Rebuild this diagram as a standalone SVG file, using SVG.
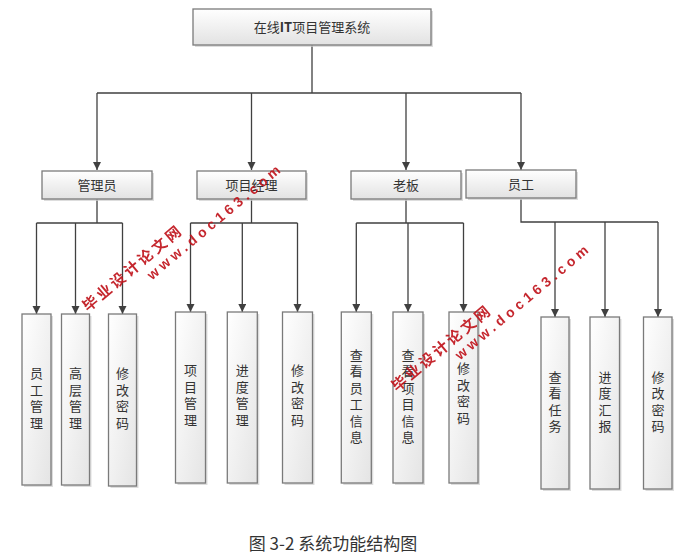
<svg xmlns="http://www.w3.org/2000/svg" width="678" height="558" viewBox="0 0 678 558">
<defs>
<linearGradient id="g" x1="0" y1="0" x2="0" y2="1">
<stop offset="0" stop-color="#ffffff"/>
<stop offset="1" stop-color="#e2e2e2"/>
</linearGradient>
<linearGradient id="gv" x1="0" y1="0" x2="1" y2="1">
<stop offset="0" stop-color="#ffffff"/>
<stop offset="1" stop-color="#e4e4e4"/>
</linearGradient>
<marker id="arr" markerUnits="userSpaceOnUse" markerWidth="9" markerHeight="9" refX="8" refY="4" orient="auto">
<path d="M0,0 L8,4 L0,8 z" fill="#404040"/>
</marker>
</defs>
<style>
.box{fill:url(#g);stroke:#7a7a7a;stroke-width:1.3}
.tall{fill:url(#gv);stroke:#7a7a7a;stroke-width:1.3}
.sh{fill:#cfcfcf;opacity:0.7}
.t{font-family:"Noto Sans CJK SC","Liberation Sans",sans-serif;font-size:13px;fill:#333;text-anchor:middle}
.v{font-family:"Noto Sans CJK SC",sans-serif;font-size:13px;fill:#333;text-anchor:middle;writing-mode:vertical-rl;letter-spacing:3.5px}
.ln{fill:none;stroke:#404040;stroke-width:1.3}
.ar{marker-end:url(#arr)}
.wm{font-family:"Noto Sans CJK SC",sans-serif;font-weight:bold;font-size:15px;fill:#c0141c;text-anchor:middle;letter-spacing:3px}
.ww{font-family:"Liberation Sans",sans-serif;font-weight:bold;font-size:14px;fill:#c0141c;text-anchor:middle;letter-spacing:4px}
.cap{font-family:"Noto Sans CJK SC",sans-serif;font-size:17px;fill:#333;text-anchor:middle}
</style>
<rect width="678" height="558" fill="#ffffff"/>

<g id="connectors">
<path class="ln" d="M312,45 V93 M97,93 H521"/>
<path class="ln ar" d="M97,93 V170"/>
<path class="ln ar" d="M251.5,93 V170"/>
<path class="ln ar" d="M406,93 V170"/>
<path class="ln ar" d="M521,93 V170"/>
<path class="ln" d="M97,199 V223 M36.5,223 H122.5"/>
<path class="ln ar" d="M36.5,223 V314"/>
<path class="ln ar" d="M75.5,223 V314"/>
<path class="ln ar" d="M122.5,223 V314"/>
<path class="ln" d="M251.5,199 V223 M190.5,223 H297.5"/>
<path class="ln ar" d="M190.5,223 V312"/>
<path class="ln ar" d="M242.3,223 V312"/>
<path class="ln ar" d="M297.5,223 V312"/>
<path class="ln" d="M406,199 V223 M356.3,223 H463.5"/>
<path class="ln ar" d="M356.3,223 V312"/>
<path class="ln ar" d="M408,223 V312"/>
<path class="ln ar" d="M463.5,223 V312"/>
<path class="ln" d="M521,199 V222 H658"/>
<path class="ln ar" d="M555,222 V317"/>
<path class="ln ar" d="M605,222 V317"/>
<path class="ln ar" d="M658,222 V317"/>
</g>

<g id="root">
<rect class="sh" x="195" y="11" width="238" height="36"/>
<rect class="box" x="193" y="9" width="238" height="36"/>
<text class="t" x="312" y="32">在线<tspan font-weight="bold">IT</tspan>项目管理系统</text>
</g>

<g id="admin">
<rect class="sh" x="44" y="173" width="110" height="28"/>
<rect class="box" x="42" y="171" width="110" height="28"/>
<text class="t" x="97" y="190">管理员</text>
</g>
<g id="pm">
<rect class="sh" x="199" y="173" width="109" height="28"/>
<rect class="box" x="197" y="171" width="109" height="28"/>
<text class="t" x="251.5" y="190">项目经理</text>
</g>
<g id="boss">
<rect class="sh" x="353" y="173" width="110" height="28"/>
<rect class="box" x="351" y="171" width="110" height="28"/>
<text class="t" x="406" y="190">老板</text>
</g>
<g id="staff">
<rect class="sh" x="468" y="172" width="110" height="28"/>
<rect class="box" x="466" y="170" width="110" height="28"/>
<text class="t" x="521" y="189">员工</text>
</g>

<g id="a1">
<rect class="sh" x="24" y="316" width="29" height="171"/>
<rect class="tall" x="22" y="314" width="29" height="171"/>
<text class="v" x="36.5" y="399.7">员工管理</text>
</g>
<g id="a2">
<rect class="sh" x="63.5" y="316" width="28" height="171"/>
<rect class="tall" x="61.5" y="314" width="28" height="171"/>
<text class="v" x="75.5" y="399.7">高层管理</text>
</g>
<g id="a3">
<rect class="sh" x="110.5" y="316" width="28" height="172"/>
<rect class="tall" x="108.5" y="314" width="28" height="172"/>
<text class="v" x="122.5" y="399.7">修改密码</text>
</g>

<g id="b1">
<rect class="sh" x="177.5" y="314" width="30" height="171"/>
<rect class="tall" x="175.5" y="312" width="30" height="171"/>
<text class="v" x="190.5" y="396.7">项目管理</text>
</g>
<g id="b2">
<rect class="sh" x="229.3" y="314" width="30" height="171"/>
<rect class="tall" x="227.3" y="312" width="30" height="171"/>
<text class="v" x="242.3" y="396.7">进度管理</text>
</g>
<g id="b3">
<rect class="sh" x="284.5" y="314" width="30" height="171"/>
<rect class="tall" x="282.5" y="312" width="30" height="171"/>
<text class="v" x="297.5" y="396.7">修改密码</text>
</g>

<g id="c1">
<rect class="sh" x="343.3" y="314" width="30" height="171"/>
<rect class="tall" x="341.3" y="312" width="30" height="171"/>
<text class="v" x="356.3" y="397.7">查看员工信息</text>
</g>
<g id="c2">
<rect class="sh" x="395" y="314" width="30" height="171"/>
<rect class="tall" x="393" y="312" width="30" height="171"/>
<text class="v" x="408" y="397.7">查看项目信息</text>
</g>
<g id="c3">
<rect class="sh" x="451" y="314" width="29" height="171"/>
<rect class="tall" x="449" y="312" width="29" height="171"/>
<text class="v" x="463.5" y="394.7">修改密码</text>
</g>

<g id="d1">
<rect class="sh" x="543" y="319" width="28" height="172"/>
<rect class="tall" x="541" y="317" width="28" height="172"/>
<text class="v" x="555" y="403.4">查看任务</text>
</g>
<g id="d2">
<rect class="sh" x="592" y="319" width="29.5" height="172"/>
<rect class="tall" x="590" y="317" width="29.5" height="172"/>
<text class="v" x="605" y="403.4">进度汇报</text>
</g>
<g id="d3">
<rect class="sh" x="645.5" y="319" width="28.5" height="172"/>
<rect class="tall" x="643.5" y="317" width="28.5" height="172"/>
<text class="v" x="658" y="403.4">修改密码</text>
</g>

<g id="watermark" opacity="0.92">
<text class="wm" transform="translate(133,268) rotate(-40)" y="5">毕业设计论文网</text>
<text class="ww" transform="translate(215,221) rotate(-40)" y="5">www.doc163.com</text>
<text class="wm" transform="translate(442,348) rotate(-40)" y="5">毕业设计论文网</text>
<text class="ww" transform="translate(523,301) rotate(-40)" y="5">www.doc163.com</text>
</g>

<text class="cap" x="333" y="550">图 3-2 系统功能结构图</text>
</svg>
